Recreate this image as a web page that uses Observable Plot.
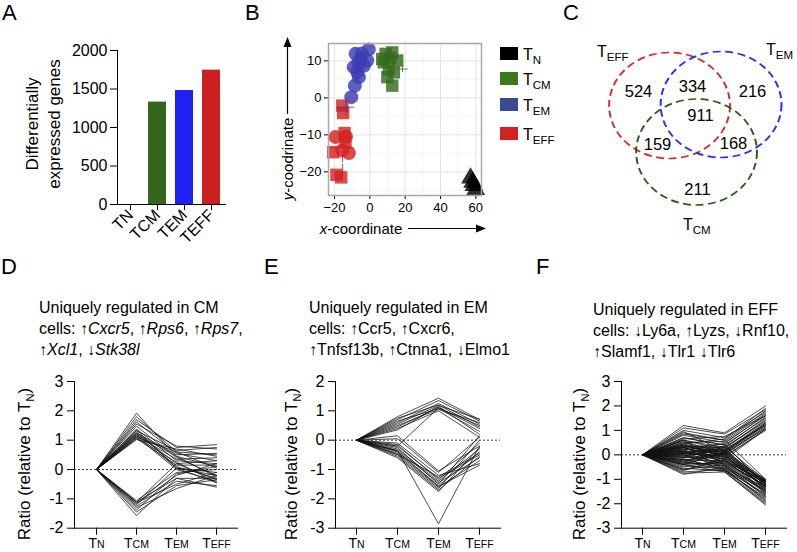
<!DOCTYPE html>
<html><head><meta charset="utf-8">
<script src="https://cdn.jsdelivr.net/npm/d3@7"></script>
<script src="https://cdn.jsdelivr.net/npm/@observablehq/plot@0.6"></script>
<style>
body{margin:0;background:#fff;}
#root{position:relative;width:797px;height:552px;overflow:hidden;font-family:"Liberation Sans",Arial,Helvetica,sans-serif;color:#000;}
.abs{position:absolute;}
.letter{position:absolute;font-size:22px;line-height:22px;}
.rot{position:absolute;transform:translate(-50%,-50%) rotate(-90deg);white-space:nowrap;text-align:center;}
.title{position:absolute;font-size:16px;line-height:21px;white-space:nowrap;}
.lab{position:absolute;font-size:16px;line-height:16px;white-space:nowrap;}
.lab sub,.rot sub{font-size:11.5px;position:relative;top:4px;vertical-align:baseline;}
.sq{position:absolute;width:18px;height:13px;}
</style></head><body><div id="root"></div>
<script>
// ---------- DATA ----------
// Panel A
const aCategories = ["TN", "TCM", "TEM", "TEFF"];
const aCounts = [0, 1330, 1480, 1745];
const aTicks = [0, 500, 1000, 1500, 2000];

// Panel B (t-SNE-like coordinates)
const bGroup = ["TN","TN","TN","TN",
  "TCM","TCM","TCM","TCM","TCM","TCM","TCM","TCM","TCM","TCM",
  "TEM","TEM","TEM","TEM","TEM","TEM","TEM","TEM","TEM","TEM","TEM","TEM",
  "TEFF","TEFF","TEFF","TEFF","TEFF","TEFF","TEFF","TEFF","TEFF","TEFF","TEFF"];
const bX = [57.0, 58.9, 59.9, 58.2,
  8.9, 12.7, 15.5, 7.9, 10.8, 13.6, 12.7, 7.0, 9.9, 11.5,
  -8.1, -0.6, -5.3, -9.1, -7.1, -6.2, -3.4, -1.5, -8.5, -10.5, -4.5, -6.5,
  -15.6, -15.1, -14.3, -13.8, -20.7, -18.9, -16.2, -19.4, -15.6, -11.9, -13.5];
const bY = [-21.7, -23.7, -24.8, -22.8,
  11.9, 12.3, 10.1, 9.6, 7.8, 6.9, 3.3, 10.5, 5.6, 10.8,
  11.9, 13.1, 10.5, 8.3, 6.9, 5.6, 8.7, 10.1, 3.3, 0.2, 12.0, 9.5,
  -2.1, -4.1, -9.5, -12.0, -14.7, -20.8, -21.5, -10.6, -14.2, -14.9, -10.5];
const bBatch = ["A","A","A","A",
  "A","A","A","A","A","A","A","A","A","A",
  "B","B","B","B","B","B","B","B","B","B","B","B",
  "A","A","A","A","A","A","A","B","B","B","B"];
const bXTicks = [-20, 0, 20, 40, 60];
const bYTicks = [-20, -10, 0, 10];
const bXMinor = [-10, 10, 30, 50];
const bYMinor = [-25, -15, -5, 5];
// spread (cross bars) of a few samples
const bErrGroup = ["TEM", "TCM", "TEFF", "TEFF", "TEM", "TCM"];
const bErrX = [-13.5, 18.5, -15.5, -15.5, -7.0, 10.0];
const bErrY = [-2.5, 7.8, -13.5, -20.0, 8.0, 10.0];
const bErrDX = [5.0, 3.3, 6.5, 1.0, 5.0, 4.0];
const bErrDY = [2.3, 1.0, 4.0, 2.0, 1.5, 2.0];

// Panel C (Venn)
const vennSets = ["TEFF", "TEM", "TCM"];
const vennRegionCounts = [524, 334, 216, 911, 159, 168, 211];

// Panels D, E, F : ratio relative to TN for TCM, TEM, TEFF (TN = 0)
const stages = ["TN", "TCM", "TEM", "TEFF"];
const dRows = [
  [1.92, 0.45, 0.10], [1.80, 0.60, 0.50], [1.70, 0.75, 0.85], [1.62, 0.55, 0.30],
  [1.55, 0.80, 0.70], [1.48, 0.40, -0.20], [1.38, 0.30, 0.20], [1.32, 0.65, 0.75],
  [1.28, 0.10, -0.30], [1.25, 0.50, 0.55], [1.22, 0.20, -0.35], [1.18, 0.05, -0.10],
  [1.15, 0.35, 0.40], [1.12, 0.00, -0.40], [1.10, 0.60, 0.05], [1.08, 0.25, -0.45],
  [1.05, 0.15, 0.15], [1.02, 0.70, 0.45], [1.20, 0.45, -0.25], [1.35, 0.05, -0.20],
  [-1.06, -0.10, 0.00], [-1.10, -0.30, -0.30], [-1.13, -0.50, -0.10], [-1.17, -0.20, 0.20],
  [-1.20, 0.05, -0.45], [-1.25, -0.40, -0.55], [-1.30, -0.65, -0.20], [-1.38, -0.15, 0.10],
  [-1.45, -0.55, -0.35], [-1.57, -0.30, -0.60], [-1.12, 0.20, 0.30]
];
const eRows = [
  [0.80, 1.43, 0.70], [0.70, 1.35, 0.65], [0.60, 1.25, 0.55], [0.55, 1.18, 0.72],
  [0.45, 1.12, 0.40], [0.65, 1.08, 0.30], [0.50, 1.05, 0.60], [0.35, 1.15, 0.20],
  [0.75, 1.20, 0.45], [-0.20, 1.10, 0.50], [0.40, 1.00, 0.10],
  [0.15, -1.05, -0.20], [-0.10, -1.20, -0.80], [-0.20, -1.30, -0.50], [-0.30, -1.40, -0.30],
  [-0.35, -1.45, -0.60], [-0.40, -1.55, -0.40], [-0.45, -1.60, -0.70], [-0.50, -1.65, 0.00],
  [-0.55, -1.70, -0.55], [-0.60, -1.75, -0.25], [-0.25, -1.50, 0.15], [-0.15, -1.35, -0.10],
  [-0.35, -2.85, -0.20], [-0.38, -1.58, -0.85], [-0.48, -1.25, -0.45], [0.05, -1.10, 0.10]
];
const fRows = [
  [1.20, 0.90, 2.00], [1.10, 0.85, 1.85], [1.00, 0.70, 1.75], [0.90, 0.60, 1.80],
  [0.80, 0.50, 1.60], [0.70, 0.40, 1.50], [0.60, 0.30, 1.40], [0.50, 0.55, 1.70],
  [0.40, 0.20, 1.30], [0.35, 0.10, 1.20], [0.30, 0.45, 1.65], [0.25, 0.00, 1.10],
  [0.20, 0.35, 1.55], [0.15, -0.10, 1.05], [0.10, 0.25, 1.45], [0.05, 0.15, 1.25],
  [0.00, 0.05, 1.15], [-0.10, 0.30, 1.35], [-0.20, -0.05, 1.00], [-0.30, 0.20, 1.20],
  [0.45, 0.65, 1.90], [0.55, 0.05, 1.10], [0.65, 0.75, 1.60], [0.95, 0.15, 1.30],
  [0.30, -0.20, 1.05], [-0.40, 0.10, 1.25],
  [0.85, 0.60, -1.00], [0.70, 0.40, -1.20], [0.60, 0.20, -1.10], [0.50, 0.10, -1.40],
  [0.45, 0.00, -1.05], [0.40, -0.10, -1.30], [0.35, 0.30, -1.50], [0.30, -0.20, -1.15],
  [0.25, 0.05, -1.60], [0.20, -0.30, -1.25], [0.15, 0.15, -1.35], [0.10, -0.40, -1.45],
  [0.05, -0.05, -1.10], [0.00, -0.50, -1.70], [-0.05, 0.25, -1.20], [-0.10, -0.15, -1.55],
  [-0.15, -0.60, -1.80], [-0.20, -0.25, -1.30], [-0.25, 0.10, -1.00], [-0.30, -0.45, -1.65],
  [-0.35, -0.35, -1.40], [-0.40, -0.70, -2.00], [-0.45, -0.55, -1.90], [-0.50, -0.20, -1.15],
  [-0.55, -0.65, -1.75], [-0.60, -0.40, -1.50], [-0.65, -0.10, -1.20], [-0.70, -0.60, -1.60],
  [-0.75, -0.70, -2.05], [-0.80, -0.50, -1.35], [0.00, -0.35, -1.25], [0.15, -0.25, -1.05],
  [-0.20, -0.55, -1.45], [0.35, -0.60, -1.85], [-0.35, 0.05, -1.10], [0.20, 0.45, -1.30],
  [-0.10, 0.00, -1.40], [0.10, -0.15, -1.00], [-0.40, -0.30, -1.25], [0.60, -0.40, -1.55],
  [0.30, 0.15, -1.15], [-0.25, -0.65, -1.95], [-0.05, -0.45, -1.70], [0.40, -0.05, -1.20],
  [-0.60, -0.25, -1.10], [0.05, 0.35, -1.05]
];

// ---------- STYLE ----------
const FONT = '"Liberation Sans", Arial, Helvetica, sans-serif';
const baseStyle = {fontFamily: FONT, fontSize: "16px", background: "transparent", overflow: "visible", color: "#000"};
const barColor = {TN: "#000000", TCM: "#35661a", TEM: "#2020f5", TEFF: "#cc1f1f"};
const ptColor = {TN: "#000000", TCM: "#356b1f", TEM: "#3b3db3", TEFF: "#d42323"};
const legendColor = {TN: "#000000", TCM: "#3b7a1c", TEM: "#3b4b8f", TEFF: "#d42121"};
const vennColor = {TEFF: "#d42a2a", TEM: "#2a2af5", TCM: "#2d5a1a"};
const subs = {TN: "N", TCM: "CM", TEM: "EM", TEFF: "EFF"};
const plainNum = d => String(d);

const root = document.getElementById("root");
function place(el, left, top) {
  el.style.position = "absolute";
  el.style.left = left + "px";
  el.style.top = top + "px";
  root.appendChild(el);
  return el;
}
function html(cls, left, top, inner, extra) {
  const d = document.createElement("div");
  d.className = cls;
  d.innerHTML = inner;
  d.style.left = left + "px";
  d.style.top = top + "px";
  if (extra) Object.assign(d.style, extra);
  root.appendChild(d);
  return d;
}
function smallCaps(svg) {
  const NS = "http://www.w3.org/2000/svg";
  svg.querySelectorAll("text").forEach(t => {
    const s = t.textContent;
    if (/^T(N|CM|EM|EFF)$/.test(s)) {
      t.textContent = "";
      t.setAttribute("font-size", "14");
      const a = document.createElementNS(NS, "tspan"); a.textContent = "T";
      const b = document.createElementNS(NS, "tspan"); b.textContent = s.slice(1);
      b.setAttribute("font-size", "10.5");
      t.append(a, b);
    }
  });
}

// ---------- PANEL A ----------
const aData = aCategories.map((c, i) => ({cat: c, n: aCounts[i]}));
place(Plot.plot({
  width: 250, height: 240, marginLeft: 117, marginRight: 25, marginTop: 50, marginBottom: 36,
  style: baseStyle,
  x: {type: "band", domain: aCategories, paddingInner: 0.34, paddingOuter: 0.17, align: 0.4, label: null,
      tickRotate: -45, tickSize: 6, tickPadding: 2, line: true},
  y: {domain: [0, 2000], ticks: aTicks, tickFormat: plainNum, label: null, tickSize: 7, tickPadding: 3, line: true},
  marks: [Plot.barY(aData, {x: "cat", y: "n", fill: d => barColor[d.cat]})]
}), 0, 0);
html("rot", 44, 124, "Differentially<br>expressed genes", {fontSize: "17px", lineHeight: "22px"});

// ---------- PANEL B ----------
const bPoints = bGroup.map((g, i) => ({g, x: bX[i], y: bY[i], batch: bBatch[i]}));
const bErr = bErrGroup.map((g, i) => ({g, x: bErrX[i], y: bErrY[i], dx: bErrDX[i], dy: bErrDY[i]}));
const symOf = d => d.g === "TN" ? "triangle" : (d.batch === "A" ? "square" : "circle");
place(Plot.plot({
  width: 250, height: 240, marginLeft: 88, marginRight: 9, marginTop: 43, marginBottom: 45,
  style: {...baseStyle, fontSize: "13px"},
  x: {domain: [-23.4, 63.2], ticks: bXTicks, label: null, tickSize: 4, tickPadding: 3},
  y: {domain: [-26.4, 14.7], ticks: bYTicks, label: null, tickSize: 4, tickPadding: 3},
  marks: [
    Plot.ruleX(bXMinor, {stroke: "#f2f2f2", strokeWidth: 0.8}),
    Plot.ruleY(bYMinor, {stroke: "#f2f2f2", strokeWidth: 0.8}),
    Plot.ruleX(bXTicks, {stroke: "#e4e4e4", strokeWidth: 1}),
    Plot.ruleY(bYTicks, {stroke: "#e4e4e4", strokeWidth: 1}),
    Plot.dot(bPoints, {x: "x", y: "y", symbol: symOf, fill: d => ptColor[d.g], fillOpacity: 0.82, r: 7}),
    Plot.ruleY(bErr, {x1: d => d.x - d.dx, x2: d => d.x + d.dx, y: "y", stroke: d => ptColor[d.g], strokeWidth: 1, strokeOpacity: 0.8}),
    Plot.ruleX(bErr, {x: "x", y1: d => d.y - d.dy, y2: d => d.y + d.dy, stroke: d => ptColor[d.g], strokeWidth: 1, strokeOpacity: 0.8}),
    Plot.frame({stroke: "#a8a8a8", strokeWidth: 1.5})
  ]
}), 240, 0);

// axis titles with arrows (panel B)
html("rot", 287, 159, "<i>y</i>-coodrinate", {fontSize: "15px", lineHeight: "15px"});
html("abs", 361, 228, "<i>x</i>-coordinate", {fontSize: "15px", lineHeight: "15px", transform: "translate(-50%,-50%)", whiteSpace: "nowrap"});
const arrows = document.createElementNS("http://www.w3.org/2000/svg", "svg");
arrows.setAttribute("width", 797); arrows.setAttribute("height", 552);
arrows.style.pointerEvents = "none";
arrows.innerHTML = '<line x1="287.5" y1="114" x2="287.5" y2="44" stroke="#000" stroke-width="1.2"/>' +
  '<polygon points="287.5,37 283.5,47 291.5,47" fill="#000"/>' +
  '<line x1="408" y1="228.5" x2="478" y2="228.5" stroke="#000" stroke-width="1.2"/>' +
  '<polygon points="486,228.5 476,224.5 476,232.5" fill="#000"/>';
place(arrows, 0, 0);

// legend (panel B)
const legTops = [47, 72, 98, 127];
aCategories.forEach((c, i) => {
  html("sq", 500, legTops[i], "", {background: legendColor[c]});
  html("lab", 523, legTops[i] - 0.5, "T<sub>" + subs[c] + "</sub>");
});

// ---------- PANEL C (Venn) ----------
const vennLayout = {TEFF: [60.5, 65], TEM: [105.7, 64], TCM: [84.2, 111.5]};
const vennCircles = Plot.plot({
  width: 170, height: 180, margin: 0, style: baseStyle,
  x: {domain: [0, 170], range: [0, 170], axis: null},
  y: {domain: [0, 180], range: [0, 180], axis: null},
  marks: [Plot.dot(vennSets, {x: s => vennLayout[s][0], y: s => vennLayout[s][1], r: 53,
    stroke: s => vennColor[s], strokeWidth: 1.7, strokeDasharray: "7,4", fill: "none"})]
});
vennCircles.style.transformOrigin = "0 0";
vennCircles.style.transform = "scaleX(1.14)";
place(vennCircles, 600, 40);
const vennLabelPos = [[38, 51], [92, 46], [152, 51], [100, 75], [57, 104], [133, 103], [97, 149]];
place(Plot.plot({
  width: 197, height: 190, margin: 0, style: baseStyle,
  x: {domain: [0, 197], range: [0, 197], axis: null},
  y: {domain: [0, 190], range: [0, 190], axis: null},
  marks: [Plot.text(vennRegionCounts, {x: (d, i) => vennLabelPos[i][0], y: (d, i) => vennLabelPos[i][1], text: d => String(d), fontSize: 16.5})]
}), 600, 40);
html("lab", 597, 43.5, "T<sub>EFF</sub>");
html("lab", 766, 41.5, "T<sub>EM</sub>");
html("lab", 683, 216.5, "T<sub>CM</sub>");

// ---------- PANELS D, E, F ----------
function linePlot(rows, left, width, marginLeft, marginRight, yDomain, yTicks) {
  const data = rows.flatMap((r, i) => stages.map((s, j) => ({id: i, stage: s, v: j === 0 ? 0 : r[j - 1]})));
  const svg = Plot.plot({
    width, height: 182, marginLeft, marginRight, marginTop: 11, marginBottom: 24.3,
    style: baseStyle,
    x: {type: "point", domain: stages, padding: 0.5, label: null, tickSize: 7, tickPadding: 3, line: true},
    y: {domain: yDomain, ticks: yTicks, tickFormat: plainNum, label: null, tickSize: 7, tickPadding: 4, line: true},
    marks: [
      Plot.ruleY([0], {stroke: "#333", strokeWidth: 1, strokeDasharray: "2,2"}),
      Plot.line(data, {x: "stage", y: "v", z: "id", stroke: "#111", strokeWidth: 0.75})
    ]
  });
  smallCaps(svg);
  place(svg, left, 370);
}
linePlot(dRows, 0, 250, 74, 13, [-2, 3], [-2, -1, 0, 1, 2, 3]);
linePlot(eRows, 270, 250, 65, 20, [-3, 2], [-3, -2, -1, 0, 1, 2]);
linePlot(fRows, 535, 262, 86, 11, [-3, 3], [-3, -2, -1, 0, 1, 2, 3]);

const ratioLabel = "Ratio (relative to T<sub>N</sub>)";
html("rot", 25, 464, ratioLabel, {fontSize: "17px", lineHeight: "17px"});
html("rot", 292, 464, ratioLabel, {fontSize: "17px", lineHeight: "17px"});
html("rot", 580, 464, ratioLabel, {fontSize: "17px", lineHeight: "17px"});

html("title", 39, 297, "Uniquely regulated in CM<br>cells: ↑<i>Cxcr5</i>, ↑<i>Rps6</i>, ↑<i>Rps7</i>,<br>↑<i>Xcl1</i>, ↓<i>Stk38l</i>");
html("title", 309, 297, "Uniquely regulated in EM<br>cells: ↑Ccr5, ↑Cxcr6,<br>↑Tnfsf13b, ↑Ctnna1, ↓Elmo1");
html("title", 593, 299, "Uniquely regulated in EFF<br>cells: ↓Ly6a, ↑Lyzs, ↓Rnf10,<br>↑Slamf1, ↓Tlr1 ↓Tlr6");

// ---------- PANEL LETTERS ----------
html("letter", 2, 2, "A");
html("letter", 245, 2, "B");
html("letter", 563, 2, "C");
html("letter", 1, 256, "D");
html("letter", 264, 256, "E");
html("letter", 536, 256, "F");
</script></body></html>
